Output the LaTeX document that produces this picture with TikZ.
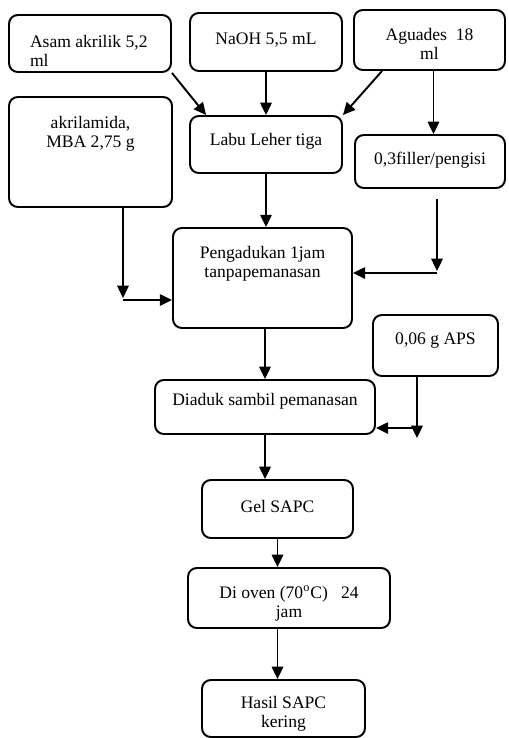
\documentclass[tikz,border=0pt]{standalone}
\usepackage{fontspec}
\setmainfont{Liberation Serif}
\usetikzlibrary{arrows.meta,calc}
% text at the top of a box: width, height, gap above, lines
\newcommand{\flowtext}[4]{\parbox[c][#2][t]{#1}{\centering\vspace*{#3}#4}}

\begin{document}
\begin{tikzpicture}[x=0.02cm, y=-0.02cm,
    box/.style={draw, line width=1.1pt, rounded corners=5pt, inner sep=0pt,
      font=\fontsize{10}{11}\selectfont},
    arr/.style={-{Triangle[length=7pt,width=6.5pt]}, line width=1.1pt}]
  \useasboundingbox (0,0) rectangle (508,738);

  % bahan
  \node[box] (asam) at (90,43.5)
    {\parbox[c][1.14cm][t]{3.24cm}{\vspace*{0.4cm}\leftskip=0.42cm Asam akrilik 5,2\\ml}};
  \node[box] (naoh) at (266,42) {\flowtext{3.04cm}{1.16cm}{0.4cm}{NaOH 5,5 mL}};
  \node[box] (aguades) at (429.5,40) {\flowtext{3.02cm}{1.2cm}{0.36cm}{Aguades~~18\\ml}};
  \node[box] (akril) at (90.5,152) {\flowtext{3.26cm}{2.2cm}{0.38cm}{akrilamida,\\MBA 2,75 g}};
  \node[box] (labu) at (266,144.5) {\flowtext{3.04cm}{1.14cm}{0.34cm}{Labu Leher tiga}};
  \node[box] (filler) at (430,161.5) {\flowtext{3.0cm}{1.06cm}{0.34cm}{0,3filler/pengisi}};

  % proses
  \node[box] (peng) at (262.5,278) {\flowtext{3.58cm}{2.0cm}{0.36cm}{Pengadukan 1jam\\tanpapemanasan}};
  \node[box] (aps) at (435.5,345.5) {\flowtext{2.5cm}{1.22cm}{0.36cm}{0,06 g APS}};
  \node[box] (diaduk) at (265,407) {\flowtext{4.4cm}{1.08cm}{0.26cm}{Diaduk sambil pemanasan}};
  \node[box] (gel) at (277.5,509) {\flowtext{3.02cm}{1.16cm}{0.4cm}{Gel SAPC}};
  \node[box] (oven) at (289,598) {\flowtext{4.04cm}{1.2cm}{0.36cm}{Di oven (70$^{\mathrm{o}}$C)~~~24\\jam}};
  \node[box] (hasil) at (283.5,708.5) {\flowtext{3.26cm}{1.14cm}{0.32cm}{Hasil SAPC\\kering}};

  % titik belok
  \coordinate (agR) at ($(aguades.south)+(4,0)$);
  \coordinate (akrilturn) at (123,300);
  \coordinate (fillerturn) at (437,273);
  \coordinate (apsturn) at (417,428);

  \draw[arr] (asam.south east) -- ($(labu.north west)+(17,0)$);
  \draw[arr] (naoh) -- (labu);
  \draw[arr] ($(aguades.south west)+(29,0)$) -- (labu.north east);
  \draw[arr] (agR) -- (agR |- filler.north);

  \draw[arr] (akrilturn |- akril.south) -- ($(akrilturn)+(0,-2)$);
  \draw[arr] (akrilturn) -- (akrilturn -| peng.west);
  \draw[arr] ($(fillerturn |- filler.south)+(0,10)$) -- ($(fillerturn)+(0,-2)$);
  \draw[arr] (fillerturn) -- (fillerturn -| peng.east);
  \draw[arr] (labu) -- (labu |- peng.north);

  \draw[arr] (peng.south -| diaduk) -- (diaduk.north);
  \draw[arr] (apsturn |- aps.south) -- ($(apsturn)+(0,10)$);
  \draw[arr] (apsturn) -- (apsturn -| diaduk.east);
  \draw[arr] (diaduk.south) -- (diaduk.south |- gel.north);
  \draw[arr] (gel.south) -- (gel.south |- oven.north);
  \draw[arr] (gel.south |- oven.south) -- (gel.south |- hasil.north);
\end{tikzpicture}
\end{document}
